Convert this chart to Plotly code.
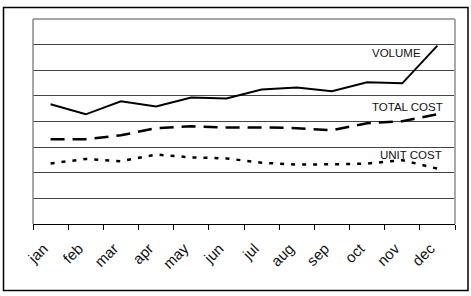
import plotly.graph_objects as go

months = ["jan", "feb", "mar", "apr", "may", "jun", "jul", "aug", "sep", "oct", "nov", "dec"]
volume = [4.67, 4.28, 4.79, 4.59, 4.94, 4.90, 5.25, 5.33, 5.18, 5.53, 5.49, 6.96]
total_cost = [3.31, 3.31, 3.46, 3.74, 3.81, 3.77, 3.77, 3.74, 3.66, 3.93, 4.01, 4.28]
unit_cost = [2.36, 2.54, 2.45, 2.71, 2.60, 2.56, 2.39, 2.32, 2.33, 2.36, 2.49, 2.16]

FONT = "Liberation Sans, Arial, sans-serif"

fig = go.Figure()
fig.add_trace(go.Scatter(x=months, y=volume, mode="lines",
                         line=dict(color="black", width=2), name="VOLUME"))
fig.add_trace(go.Scatter(x=months, y=total_cost, mode="lines",
                         line=dict(color="black", width=2.5, dash="14px,8px"), name="TOTAL COST"))
fig.add_trace(go.Scatter(x=months, y=unit_cost, mode="lines",
                         line=dict(color="black", width=2.5, dash="4px,7px"), name="UNIT COST"))

W, H = 471, 296
L, R, T, B = 33, 16, 19, 72
pw, ph = W - L - R, H - T - B

def px_x(x):
    return (x - L) / pw

def px_y(y):
    return (H - B - y) / ph

def label(text, cx, cy):
    return dict(text=text, xref="paper", yref="paper", x=px_x(cx), y=px_y(cy),
                xanchor="center", yanchor="middle", showarrow=False,
                font=dict(size=11.5, family=FONT, color="#111"))

fig.update_layout(
    width=W, height=H,
    margin=dict(l=L, r=R, t=T, b=B),
    paper_bgcolor="white", plot_bgcolor="white",
    showlegend=False,
    font=dict(family=FONT, size=12, color="#111"),
    xaxis=dict(type="category", tickson="boundaries", ticks="outside", ticklen=5,
               range=[-0.5, len(months) - 0.5],
               tickcolor="black", tickwidth=1, tickangle=-45,
               ticklabelstandoff=9, ticklabelshift=-7,
               showline=True, linecolor="black", linewidth=1,
               showgrid=False, tickfont=dict(size=15, family=FONT, color="#111")),
    yaxis=dict(range=[0, 8], dtick=1, showticklabels=False, ticks="",
               showgrid=True, gridcolor="#444", gridwidth=1,
               zeroline=False, showline=False),
    shapes=[
        dict(type="line", xref="paper", yref="paper", x0=0, x1=0, y0=0, y1=1,
             line=dict(color="#888", width=1.5)),
        dict(type="line", xref="paper", yref="paper", x0=0, x1=1, y0=1, y1=1,
             line=dict(color="#888", width=1.5)),
        dict(type="line", xref="paper", yref="paper", x0=1, x1=1, y0=0, y1=1,
             line=dict(color="#aaa", width=2)),
        dict(type="rect", xref="paper", yref="paper",
             x0=px_x(3.5), x1=px_x(468), y0=px_y(290.5), y1=px_y(7.5),
             line=dict(color="black", width=1.5), fillcolor="rgba(0,0,0,0)"),
    ],
    annotations=[
        label("VOLUME", 396, 53),
        label("TOTAL COST", 407, 107),
        label("UNIT COST", 411, 155),
    ],
)

fig.write_html("out.html")
